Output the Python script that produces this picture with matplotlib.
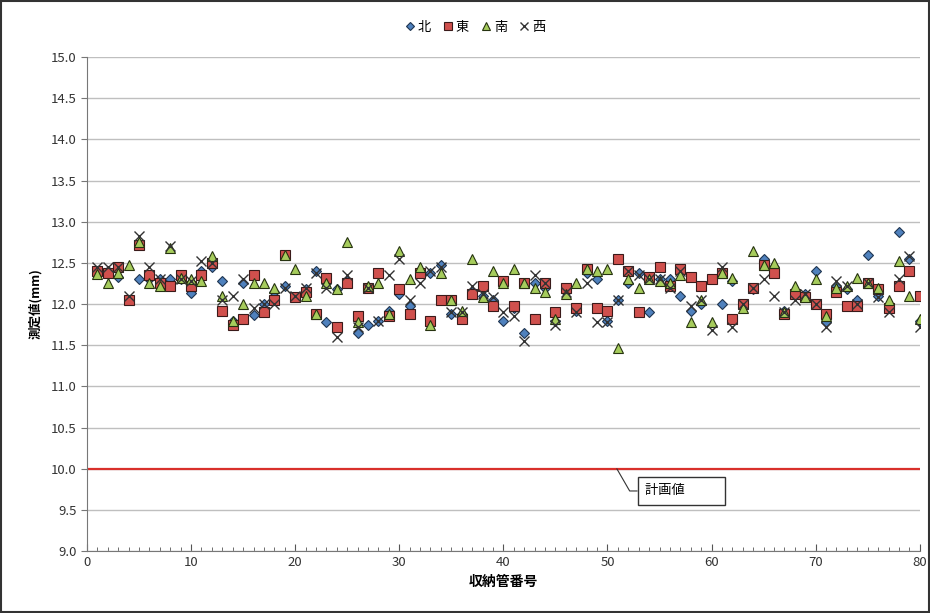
import matplotlib
matplotlib.use("Agg")
import matplotlib.pyplot as plt
import numpy as np

plt.rcParams['font.family'] = ['Noto Sans CJK JP', 'DejaVu Sans']

# 収納管番号 1..80
pipe_no = list(range(1, 81))

north = [12.40, 12.40, 12.33, 12.05, 12.30, 12.30, 12.30, 12.30, 12.30, 12.13,
         12.40, 12.45, 12.28, 11.80, 12.25, 11.87, 12.00, 12.15, 12.22, 12.08,
         12.18, 12.40, 11.78, 12.18, 12.28, 11.65, 11.75, 11.80, 11.92, 12.12,
         11.98, 12.38, 12.38, 12.47, 11.88, 11.88, 12.15, 12.10, 12.05, 11.80,
         11.95, 11.65, 12.25, 12.20, 11.80, 12.15, 11.92, 12.38, 12.30, 11.80,
         12.05, 12.25, 12.38, 11.90, 12.30, 12.30, 12.10, 11.92, 12.00, 12.30,
         12.00, 12.28, 11.98, 12.18, 12.55, 12.45, 11.92, 12.15, 12.12, 12.40,
         11.78, 12.22, 12.18, 12.05, 12.60, 12.10, 11.95, 12.87, 12.55, 11.80]

east = [12.40, 12.38, 12.45, 12.05, 12.72, 12.35, 12.25, 12.22, 12.35, 12.22,
        12.35, 12.50, 11.92, 11.75, 11.82, 12.35, 11.90, 12.05, 12.60, 12.08,
        12.15, 11.88, 12.32, 11.72, 12.25, 11.85, 12.20, 12.38, 11.85, 12.18,
        11.88, 12.38, 11.80, 12.05, 12.05, 11.82, 12.12, 12.22, 11.98, 12.28,
        11.98, 12.25, 11.82, 12.25, 11.90, 12.20, 11.95, 12.42, 11.95, 11.92,
        12.55, 12.40, 11.90, 12.33, 12.45, 12.22, 12.43, 12.33, 12.22, 12.30,
        12.38, 11.82, 12.00, 12.20, 12.48, 12.38, 11.88, 12.12, 12.08, 12.00,
        11.88, 12.15, 11.98, 11.98, 12.25, 12.18, 11.95, 12.22, 12.40, 12.10]

south = [12.37, 12.25, 12.38, 12.47, 12.75, 12.25, 12.22, 12.68, 12.32, 12.30,
         12.28, 12.58, 12.10, 11.80, 12.00, 12.25, 12.25, 12.20, 12.60, 12.43,
         12.10, 11.88, 12.25, 12.18, 12.75, 11.78, 12.22, 12.25, 11.88, 12.65,
         12.30, 12.45, 11.75, 12.38, 12.05, 11.92, 12.55, 12.08, 12.40, 12.25,
         12.43, 12.25, 12.20, 12.15, 11.82, 12.12, 12.25, 12.42, 12.40, 12.42,
         11.47, 12.30, 12.20, 12.30, 12.28, 12.25, 12.35, 11.78, 12.05, 11.78,
         12.38, 12.32, 11.95, 12.65, 12.47, 12.50, 11.90, 12.22, 12.08, 12.30,
         11.85, 12.20, 12.22, 12.32, 12.25, 12.20, 12.05, 12.52, 12.10, 11.82]

west = [12.45, 12.45, 12.45, 12.10, 12.83, 12.45, 12.30, 12.70, 12.30, 12.28,
        12.52, 12.50, 12.05, 12.10, 12.30, 11.95, 12.00, 12.00, 12.20, 12.10,
        12.20, 12.38, 12.20, 11.60, 12.35, 11.72, 12.20, 11.80, 12.35, 12.55,
        12.05, 12.25, 12.40, 12.45, 11.90, 11.90, 12.22, 12.12, 12.08, 11.90,
        11.85, 11.55, 12.35, 12.25, 11.75, 12.15, 11.90, 12.25, 11.78, 11.78,
        12.05, 12.40, 12.35, 12.30, 12.30, 12.20, 12.40, 11.98, 12.05, 11.68,
        12.45, 11.72, 12.00, 12.20, 12.30, 12.10, 11.90, 12.05, 12.12, 12.00,
        11.72, 12.28, 12.22, 12.00, 12.25, 12.08, 11.90, 12.30, 12.58, 11.72]

plan_value = 10.0

fig = plt.figure(figsize=(9.3, 6.13), dpi=100)
ax = fig.add_axes([0.0935, 0.101, 0.8955, 0.806])

ax.set_xlim(0, 80)
ax.set_ylim(9.0, 15.0)
ax.set_yticks(np.arange(9.0, 15.01, 0.5))
ax.set_yticklabels(["%.1f" % v for v in np.arange(9.0, 15.01, 0.5)], fontsize=9.5, color='#333333')
ax.set_xticks(range(0, 81, 10))
ax.set_xticks(range(0, 81), minor=True)
ax.tick_params(axis='x', which='both', direction='in', length=5, color='#555555', labelsize=9.5, labelcolor='#333333')
ax.tick_params(axis='x', which='minor', length=3)
ax.tick_params(axis='y', direction='out', length=4, color='#777777')
ax.grid(axis='y', color='#bfbfbf', linewidth=1)
ax.set_axisbelow(True)
for s in ['top', 'right']:
    ax.spines[s].set_visible(False)
for s in ['left', 'bottom']:
    ax.spines[s].set_color('#777777')

# 計画値
ax.axhline(plan_value, color='#d9302b', linewidth=1.6, zorder=2)

ax.plot(pipe_no, north, linestyle='none', marker='D', markersize=5.5,
        markerfacecolor='#4f81bd', markeredgecolor='#1f3550', markeredgewidth=0.8, label='北', zorder=3)
ax.plot(pipe_no, east, linestyle='none', marker='s', markersize=7,
        markerfacecolor='#d0504d', markeredgecolor='#3a1a1a', markeredgewidth=0.8, label='東', zorder=3)
ax.plot(pipe_no, south, linestyle='none', marker='^', markersize=7.5,
        markerfacecolor='#a6cc5c', markeredgecolor='#263310', markeredgewidth=0.8, label='南', zorder=3)
ax.plot(pipe_no, west, linestyle='none', marker='x', markersize=7.5,
        color='#333333', markeredgewidth=1.0, label='西', zorder=3)

ax.annotate('計画値           ', xy=(50.9, plan_value), xytext=(53.6, 9.73),
            fontsize=9.5, ha='left', va='center',
            bbox=dict(boxstyle='square,pad=0.55', facecolor='white', edgecolor='#333333', linewidth=1),
            arrowprops=dict(arrowstyle='-', color='#333333', linewidth=0.8,
                            connectionstyle='angle,angleA=0,angleB=120,rad=0',
                            shrinkA=0, shrinkB=0))

ax.set_xlabel('収納管番号', fontsize=10, fontweight='bold', labelpad=4)
ax.set_ylabel('測定値(mm)', fontsize=9, fontweight='bold', labelpad=6)

fig.legend(loc='upper center', bbox_to_anchor=(0.51, 0.985), ncol=4, frameon=False,
           fontsize=9.5, handletextpad=0.1, columnspacing=0.8, handlelength=1.0,
           markerscale=0.8)

fig.patches.append(plt.Rectangle((0.001, 0.001), 0.998, 0.998, transform=fig.transFigure,
                                 fill=False, edgecolor='#333333', linewidth=1.5))

fig.savefig('out.png', dpi=100)
